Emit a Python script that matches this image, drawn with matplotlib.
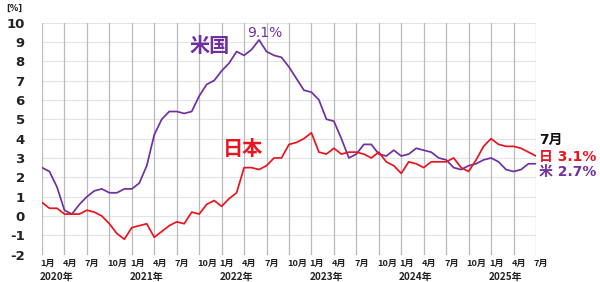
import matplotlib
matplotlib.use("Agg")
import matplotlib.pyplot as plt
import matplotlib.transforms as mtransforms

plt.rcParams['font.family'] = ['DejaVu Sans', 'Noto Sans CJK JP']

# Monthly CPI YoY (%), Jan 2020 .. Jul 2025
japan = [0.7, 0.4, 0.4, 0.1, 0.1, 0.1, 0.3, 0.2, 0.0, -0.4, -0.9, -1.2,
         -0.6, -0.5, -0.4, -1.1, -0.8, -0.5, -0.3, -0.4, 0.2, 0.1, 0.6, 0.8,
         0.5, 0.9, 1.2, 2.5, 2.5, 2.4, 2.6, 3.0, 3.0, 3.7, 3.8, 4.0,
         4.3, 3.3, 3.2, 3.5, 3.2, 3.3, 3.3, 3.2, 3.0, 3.3, 2.8, 2.6,
         2.2, 2.8, 2.7, 2.5, 2.8, 2.8, 2.8, 3.0, 2.5, 2.3, 2.9, 3.6,
         4.0, 3.7, 3.6, 3.6, 3.5, 3.3, 3.1]
usa = [2.5, 2.3, 1.5, 0.3, 0.1, 0.6, 1.0, 1.3, 1.4, 1.2, 1.2, 1.4,
       1.4, 1.7, 2.6, 4.2, 5.0, 5.4, 5.4, 5.3, 5.4, 6.2, 6.8, 7.0,
       7.5, 7.9, 8.5, 8.3, 8.6, 9.1, 8.5, 8.3, 8.2, 7.7, 7.1, 6.5,
       6.4, 6.0, 5.0, 4.9, 4.0, 3.0, 3.2, 3.7, 3.7, 3.2, 3.1, 3.4,
       3.1, 3.2, 3.5, 3.4, 3.3, 3.0, 2.9, 2.5, 2.4, 2.6, 2.7, 2.9,
       3.0, 2.8, 2.4, 2.3, 2.4, 2.7, 2.7]
month_labels = ["1月", "4月", "7月", "10月"] * 5 + ["1月", "4月", "7月"]
year_labels = ["2020年", "2021年", "2022年", "2023年", "2024年", "2025年"]
y_ticks = list(range(-2, 11))

PURPLE = '#7030a0'
RED = '#e8141e'

fig = plt.figure(figsize=(6.0, 2.82), dpi=100)
ax = fig.add_axes([0.07, 0.0968, 0.8233, 0.8234])

months = list(range(len(japan)))
ax.plot(months, usa, color=PURPLE, lw=1.25, zorder=3)
ax.plot(months, japan, color=RED, lw=1.25, zorder=4)

ax.set_xlim(0, len(japan) - 1)
ax.set_ylim(-2, 10)
for s in ax.spines.values():
    s.set_visible(False)

xt = list(range(0, len(japan), 3))
for x in xt:
    ax.axvline(x, color='#bababa', lw=0.9, zorder=1)
for y in y_ticks:
    ax.axhline(y, color='#e4e4e4', lw=0.8, zorder=0)

ax.set_yticks(y_ticks)
ax.set_yticklabels([str(v) for v in y_ticks], fontsize=9.5, fontweight='bold', color='#222222')
ax.tick_params(axis='y', length=0, pad=12.5)

ax.set_xticks(xt)
ax.set_xticklabels(month_labels, fontsize=6.6, fontweight='bold', color='#222222',
                   family=['Noto Sans CJK JP'], ha='left')
ax.tick_params(axis='x', length=0, pad=3)
offset = mtransforms.ScaledTranslation(-2 / 100, 0, fig.dpi_scale_trans)
for lab in ax.get_xticklabels():
    lab.set_transform(lab.get_transform() + offset)

for i, yl in enumerate(year_labels):
    ax.annotate(yl, xy=(i * 12, 0), xycoords=('data', 'axes fraction'),
                xytext=(-1.5, -16), textcoords='offset points', ha='left', va='center',
                fontsize=7.2, fontweight='bold', color='#222222', family=['Noto Sans CJK JP'],
                annotation_clip=False)

fig.text(6 / 600, 1 - 8 / 282, "[%]", fontsize=6, fontweight='bold', color='#222222',
         ha='left', va='center')

ax.text(19.7, 8.8, "米国", color=PURPLE, fontsize=14.5, fontweight='bold',
        family=['Noto Sans CJK JP'], ha='left', va='center')
ax.text(27.4, 9.45, "9.1%", color=PURPLE, fontsize=10, ha='left', va='center')
ax.text(24.1, 3.5, "日本", color=RED, fontsize=14.5, fontweight='bold',
        family=['Noto Sans CJK JP'], ha='left', va='center')

ax.text(66.4, 3.93, "7月", color='#111111', fontsize=10, fontweight='bold',
        ha='left', va='center', clip_on=False)
ax.text(66.4, 3.05, "日 3.1%", color=RED, fontsize=10, fontweight='bold',
        ha='left', va='center', clip_on=False)
ax.text(66.4, 2.27, "米 2.7%", color=PURPLE, fontsize=10, fontweight='bold',
        ha='left', va='center', clip_on=False)

fig.savefig("out.png", dpi=100)
